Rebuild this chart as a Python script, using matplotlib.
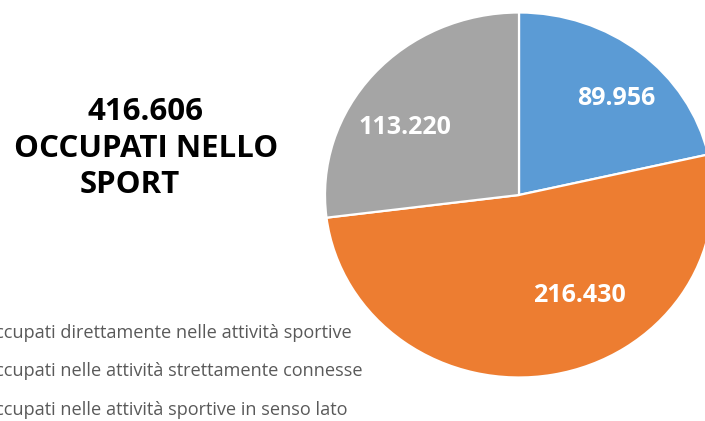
import matplotlib
matplotlib.use("Agg")
import matplotlib.pyplot as plt

# Workers in sport, by category
categories = [
    "Occupati direttamente nelle attività sportive",
    "Occupati nelle attività strettamente connesse",
    "Occupati nelle attività sportive in senso lato",
]
values = [89956, 216430, 113220]
value_labels = ["89.956", "216.430", "113.220"]
title_lines = ["416.606", "OCCUPATI NELLO", "SPORT"]
colors = ["#5B9BD5", "#ED7D31", "#A5A5A5"]

W, H = 705, 421
fig = plt.figure(figsize=(W / 100, H / 100), dpi=100)
ax = fig.add_axes([0, 0, 1, 1])

wedges, _ = ax.pie(
    values,
    colors=colors,
    startangle=90,
    counterclock=False,
    wedgeprops=dict(edgecolor="white", linewidth=1.6),
)

# Stretch the pie slightly wider than tall, centred right of the figure middle
cx, cy = 519, 195          # pixel centre (from top-left)
rx, ry = 194, 182.5        # pixel radii
ax.set_aspect("auto")
ax.set_xlim(-cx / rx, (W - cx) / rx)
ax.set_ylim(-(H - cy) / ry, cy / ry)
ax.axis("off")

# Value labels inside the slices
label_pos = [(0.50, 0.53), (0.31, -0.55), (-0.59, 0.37)]
for (x, y), txt in zip(label_pos, value_labels):
    ax.text(x, y, txt, ha="center", va="center", color="white",
            fontsize=18, fontweight="bold", family="Open Sans")

# Headline on the left
head = dict(fontsize=22.5, fontweight="bold", family="Open Sans",
            color="black", va="center")
fig.text(145 / W, 1 - 112 / H, title_lines[0], ha="center", **head)
fig.text(146 / W, 1 - 149 / H, title_lines[1], ha="center", **head)
fig.text(80 / W, 1 - 185 / H, title_lines[2], ha="left", **head)

# Legend, partly running off the left edge
leg = fig.legend(
    wedges, categories,
    loc="upper left",
    bbox_to_anchor=(-43 / W, 1 - 324 / H),
    frameon=False,
    prop=dict(family="Open Sans", size=13.1),
    handlelength=0.7, handleheight=0.7, handletextpad=0.6,
    labelspacing=1.12, borderaxespad=0, borderpad=0,
)
for t in leg.get_texts():
    t.set_color("#595959")

fig.savefig("out.png", dpi=100)
